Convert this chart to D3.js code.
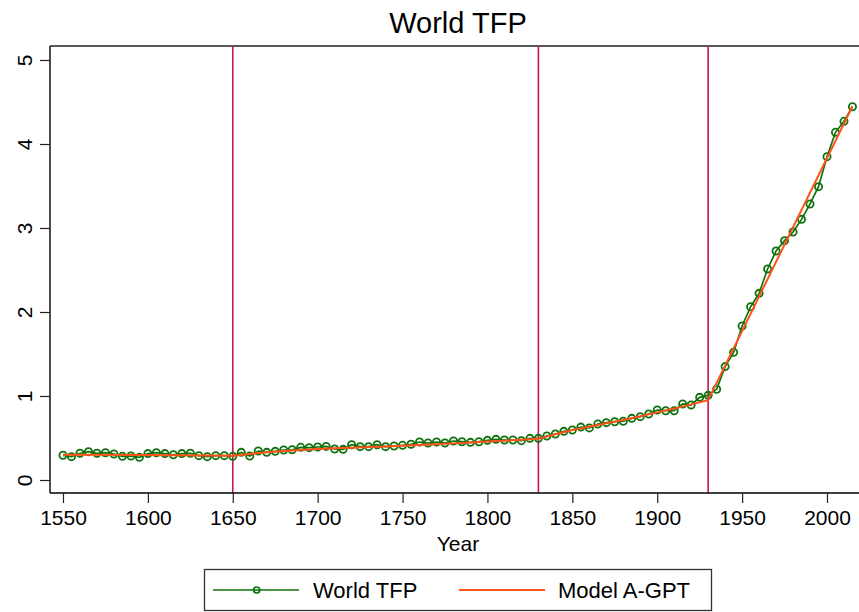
<!DOCTYPE html>
<html>
<head>
<meta charset="utf-8">
<script src="https://cdn.jsdelivr.net/npm/d3@7"></script>
<style>
  html, body { margin: 0; padding: 0; background: #fff; }
  svg { display: block; font-family: "Liberation Sans", Arial, Helvetica, sans-serif; }
</style>
</head>
<body>
<svg id="chart" width="859" height="612"></svg>
<script>
// World TFP, observed every 5 years from 1550 to 2015
const tfpYears = d3.range(1550, 2016, 5);
const tfpValues = [
  0.294, 0.278, 0.318, 0.337, 0.318, 0.325, 0.310, 0.282, 0.286, 0.270,
  0.314, 0.325, 0.314, 0.300, 0.314, 0.318, 0.290, 0.278, 0.290, 0.290,
  0.282, 0.329, 0.286, 0.345, 0.329, 0.341, 0.357, 0.360, 0.389, 0.385,
  0.393, 0.400, 0.369, 0.365, 0.420, 0.397, 0.397, 0.420, 0.397, 0.405,
  0.413, 0.425, 0.452, 0.440, 0.452, 0.440, 0.464, 0.456, 0.448, 0.456,
  0.472, 0.484, 0.476, 0.476, 0.468, 0.496, 0.496, 0.524, 0.548, 0.579,
  0.595, 0.630, 0.620, 0.667, 0.683, 0.694, 0.700, 0.734, 0.754, 0.786,
  0.833, 0.825, 0.825, 0.905, 0.893, 0.984, 1.008, 1.080, 1.350, 1.520,
  1.833, 2.063, 2.222, 2.512, 2.726, 2.849, 2.952, 3.103, 3.286, 3.492,
  3.849, 4.139, 4.270, 4.444
];

// Model A-GPT path
const modelYears = [1550, 1600, 1650, 1660, 1670, 1680, 1690, 1700, 1710, 1720,
  1730, 1740, 1750, 1760, 1770, 1780, 1790, 1800, 1810, 1820,
  1830, 1840, 1850, 1860, 1870, 1880, 1890, 1900, 1910, 1920, 1930, 2015];
const modelValues = [0.300, 0.298, 0.290, 0.310, 0.330, 0.345, 0.358, 0.368, 0.377, 0.385,
  0.392, 0.400, 0.408, 0.417, 0.426, 0.436, 0.447, 0.458, 0.468, 0.478,
  0.490, 0.545, 0.595, 0.635, 0.675, 0.715, 0.760, 0.805, 0.850, 0.900, 0.950, 4.450];

// Period breaks
const breakYears = [1650, 1830, 1930];

const xTicks = [1550, 1600, 1650, 1700, 1750, 1800, 1850, 1900, 1950, 2000];
const yTicks = [0, 1, 2, 3, 4, 5];

const svg = d3.select("#chart");
const plotL = 50, plotT = 46, plotB = 493, plotR = 859;

const x = d3.scaleLinear().domain([1550, 2000]).range([63, 827]);
const y = d3.scaleLinear().domain([0, 5]).range([480, 60]);

const green = "#0f720f";
const orange = "#ff5319";
const red = "#c8174a";

// Title
svg.append("text")
  .attr("x", 458).attr("y", 32.5)
  .attr("text-anchor", "middle")
  .attr("font-size", 29)
  .attr("fill", "#000")
  .text("World TFP");

// Plot region frame (top edge)
svg.append("line")
  .attr("x1", plotL).attr("x2", plotR).attr("y1", plotT).attr("y2", plotT)
  .attr("stroke", "#222").attr("stroke-width", 1.3);

// Vertical break lines
svg.append("g").selectAll("line").data(breakYears).join("line")
  .attr("x1", d => x(d)).attr("x2", d => x(d))
  .attr("y1", plotT).attr("y2", plotB)
  .attr("stroke", red).attr("stroke-width", 1.6);

// Y axis
const yAxis = svg.append("g")
  .attr("transform", `translate(${plotL},0)`)
  .call(d3.axisLeft(y).tickValues(yTicks).tickSize(10).tickSizeOuter(0).tickFormat(d3.format("d")));
yAxis.select(".domain").attr("d", `M0,${plotT}V${plotB}`).attr("stroke", "#000").attr("stroke-width", 1.4);
yAxis.selectAll(".tick line").attr("stroke", "#222").attr("stroke-width", 1.2);
yAxis.selectAll(".tick text")
  .attr("font-size", 21).attr("fill", "#000")
  .attr("font-family", "'Liberation Sans', Arial, sans-serif")
  .attr("x", 0).attr("dy", 0)
  .attr("text-anchor", "middle")
  .attr("transform", "translate(-18,0) rotate(-90)");

// X axis
const xAxis = svg.append("g")
  .attr("transform", `translate(0,${plotB})`)
  .call(d3.axisBottom(x).tickValues(xTicks).tickSize(10).tickSizeOuter(0).tickFormat(d3.format("d")));
xAxis.select(".domain").attr("d", `M${plotL},0H${plotR}`).attr("stroke", "#000").attr("stroke-width", 1.4);
xAxis.selectAll(".tick line").attr("stroke", "#222").attr("stroke-width", 1.2);
xAxis.selectAll(".tick text")
  .attr("font-size", 21).attr("fill", "#000")
  .attr("font-family", "'Liberation Sans', Arial, sans-serif")
  .attr("y", 17).attr("dy", "0.71em");

svg.append("text")
  .attr("x", 458).attr("y", 551)
  .attr("text-anchor", "middle")
  .attr("font-size", 21)
  .text("Year");

// World TFP series
const tfp = tfpYears.map((yr, i) => ({ year: yr, value: tfpValues[i] }));
const line = d3.line().x(d => x(d.year)).y(d => y(d.value));

svg.append("path")
  .datum(tfp)
  .attr("d", line)
  .attr("fill", "none")
  .attr("stroke", green)
  .attr("stroke-width", 1.7);

svg.append("g").selectAll("circle").data(tfp).join("circle")
  .attr("cx", d => x(d.year))
  .attr("cy", d => y(d.value))
  .attr("r", 3.6)
  .attr("fill", "none")
  .attr("stroke", green)
  .attr("stroke-width", 1.8);

// Model A-GPT
const model = modelYears.map((yr, i) => ({ year: yr, value: modelValues[i] }));
svg.append("path")
  .datum(model)
  .attr("d", line)
  .attr("fill", "none")
  .attr("stroke", orange)
  .attr("stroke-width", 2);

// Legend
const lg = svg.append("g");
lg.append("rect")
  .attr("x", 204.5).attr("y", 569.5).attr("width", 507).attr("height", 41)
  .attr("fill", "#fff").attr("stroke", "#333").attr("stroke-width", 1.3);
lg.append("line")
  .attr("x1", 213).attr("x2", 299).attr("y1", 590).attr("y2", 590)
  .attr("stroke", green).attr("stroke-width", 1.7);
lg.append("circle")
  .attr("cx", 256.7).attr("cy", 590).attr("r", 3)
  .attr("fill", "none").attr("stroke", green).attr("stroke-width", 1.7);
lg.append("text")
  .attr("x", 313).attr("y", 598).attr("font-size", 22).text("World TFP");
lg.append("line")
  .attr("x1", 459).attr("x2", 545).attr("y1", 590).attr("y2", 590)
  .attr("stroke", orange).attr("stroke-width", 2);
lg.append("text")
  .attr("x", 558).attr("y", 598).attr("font-size", 22).text("Model A-GPT");
</script>
</body>
</html>
